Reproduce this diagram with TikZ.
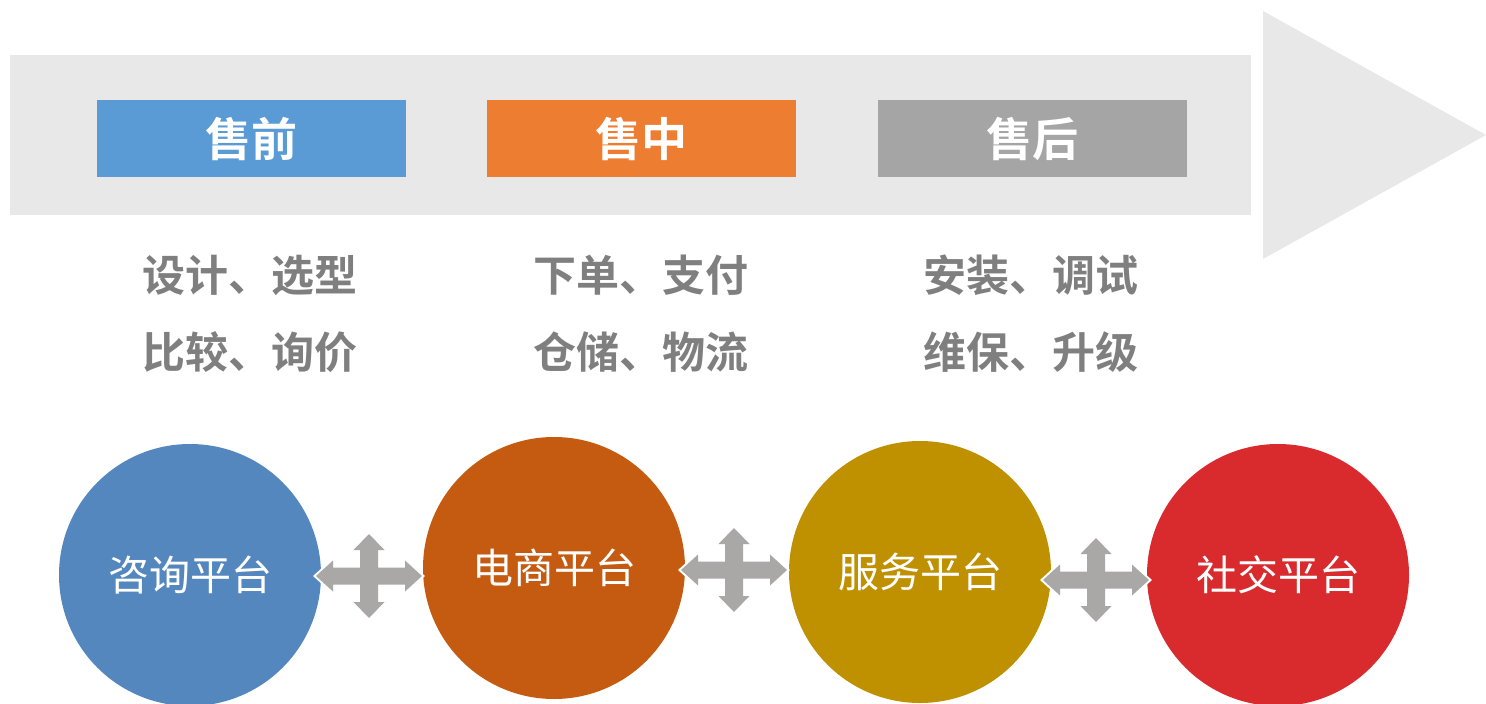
\documentclass[tikz,border=0pt]{standalone}
\usepackage{fontspec}
\setmainfont{Noto Sans CJK SC}
\newfontfamily\cjkb{Noto Sans CJK SC Bold}
\usetikzlibrary{shapes.geometric}
\definecolor{band}{HTML}{E8E8E8}
\definecolor{hblue}{HTML}{5B9BD5}
\definecolor{horange}{HTML}{ED7D31}
\definecolor{hgray}{HTML}{A5A5A5}
\definecolor{tgray}{HTML}{7F7F7F}
\definecolor{cblue}{HTML}{5587BF}
\definecolor{corange}{HTML}{C55A11}
\definecolor{cgold}{HTML}{BF9000}
\definecolor{cred}{HTML}{D92A2E}
\definecolor{agray}{HTML}{AAA7A7}
\tikzset{
  header/.style={fill=#1, draw=none, minimum width=309pt, minimum height=77pt, inner sep=0pt,
    text=white, font=\cjkb\fontsize{46}{46}\selectfont},
  phase/.style={text=tgray, font=\cjkb\fontsize{43}{43}\selectfont, inner sep=0pt},
  platform/.style={circle, fill=#1, draw=none, minimum size=262pt, inner sep=0pt,
    text=white, font=\fontsize{41}{41}\selectfont},
  cross/.pic={
    \fill[agray, preaction={draw=white, line width=4pt, line join=miter}]
      (53,0) -- (36,15.5) -- (36,8.5) -- (9,8.5) -- (9,26) -- (15.5,26) -- (0,42)
      -- (-15.5,26) -- (-9,26) -- (-9,8.5) -- (-36,8.5) -- (-36,15.5) -- (-53,0)
      -- (-36,-15.5) -- (-36,-8.5) -- (-9,-8.5) -- (-9,-26) -- (-15.5,-26) -- (0,-42)
      -- (15.5,-26) -- (9,-26) -- (9,-8.5) -- (36,-8.5) -- (36,-15.5) -- cycle;
  }
}
\begin{document}
\begin{tikzpicture}[x=1pt,y=-1pt]
\useasboundingbox (0,0) rectangle (1486,704);
% big arrow
\fill[band] (10,55) rectangle (1251,215);
\fill[band] (1263,11) -- (1486,135) -- (1263,259) -- cycle;
% headers
\node[header=hblue] (pre) at (251.5,138.5) {售前};
\node[header=horange] (mid) at (641.5,138.5) {售中};
\node[header=hgray] (post) at (1032.5,138.5) {售后};
% phase texts
\node[phase] (pre1) at (250,275) {设计、选型};
\node[phase] (pre2) at (250,352) {比较、询价};
\node[phase] (mid1) at (641,275) {下单、支付};
\node[phase] (mid2) at (641,352) {仓储、物流};
\node[phase] (post1) at (1031,275) {安装、调试};
\node[phase] (post2) at (1031,352) {维保、升级};
% platforms
\node[platform=cblue] (p1) at (190,575) {咨询平台};
\node[platform=corange] (p2) at (554,568) {电商平台};
\node[platform=cgold] (p3) at (920,572) {服务平台};
\node[platform=cred] (p4) at (1278,575) {社交平台};
% four-way arrows
\coordinate (x1) at (369,576);
\coordinate (x2) at (734,570);
\coordinate (x3) at (1096,580);
\pic at (x1) {cross};
\pic at (x2) {cross};
\pic at (x3) {cross};
\end{tikzpicture}
\end{document}
